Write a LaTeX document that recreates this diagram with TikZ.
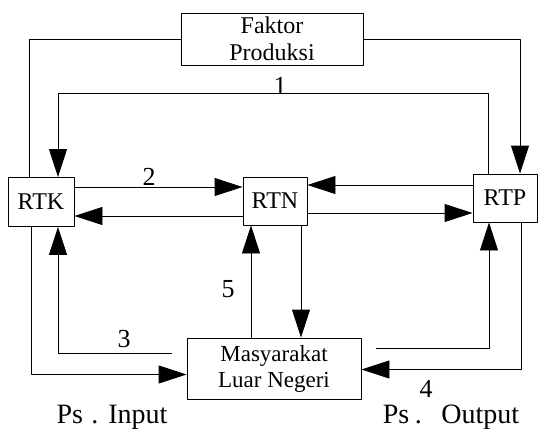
\documentclass[tikz,border=0pt]{standalone}
\usepackage{fontspec}
\setmainfont{Liberation Serif}
\usetikzlibrary{arrows.meta}

\begin{document}
\begin{tikzpicture}
			[line cap=round,line join=round,x=1pt,y=-1pt,line width=0.9pt,
			>={Triangle[length=28pt,width=18pt]},
			box/.style={draw,inner sep=0pt,align=center,font=\fontsize{23}{26}\selectfont},
			sbox/.style={draw,inner sep=0pt,font=\fontsize{24}{28}\selectfont},
			num/.style={inner sep=0pt,font=\fontsize{26}{28}\selectfont},
			ps/.style={anchor=base,inner sep=0pt,font=\fontsize{28}{30}\selectfont}]
			\useasboundingbox (0,0) rectangle (538,434);
			\node [box,font=\fontsize{24}{27}\selectfont,minimum width=182pt,minimum height=52pt] (faktor) at (272,39) {Faktor\\Produksi};
			\node [sbox,minimum width=66pt,minimum height=49pt] (rtk) at (41,202) {RTK};
			\node [sbox,minimum width=64pt,minimum height=48pt] (rtn) at (275,201) {RTN};
			\node [sbox,minimum width=64pt,minimum height=48pt] (rtp) at (505,198) {RTP};
			\node [box,minimum width=174pt,minimum height=61pt] (masy) at (274,368.5) {Masyarakat\\Luar Negeri};
			\draw ([xshift=-12pt]rtk.north) |- (faktor.west);
			\draw [->] (faktor.east) -| ([xshift=15pt]rtp.north);
			\draw [->] ([xshift=-17pt]rtp.north) -- ++(0,-80) coordinate (t1) -| ([xshift=17pt]rtk.north);
			\draw [->] ([yshift=15pt]rtk.east) -- ([yshift=15pt]rtk.east -| rtn.west);
			\draw [->] ([yshift=13pt]rtp.west) -- ([yshift=13pt]rtp.west -| rtn.east);
			\draw [->] ([yshift=-15pt]rtn.west) -- ([yshift=-15pt]rtn.west -| rtk.east);
			\draw [->] ([yshift=-12pt]rtn.east) -- ([yshift=-12pt]rtn.east -| rtp.west);
			\draw [->] ([xshift=-10pt]rtk.south) |- ([yshift=-6pt]masy.west);
			\coordinate (c3) at ([xshift=-15pt,yshift=15pt]masy.west);
			\draw [->] (c3) -| ([xshift=17pt]rtk.south);
			\draw [->] ([xshift=-23pt]masy.north) -- ([xshift=-23pt]masy.north |- rtn.south);
			\draw [->] ([xshift=26pt]rtn.south) -- ([xshift=26pt]rtn.south |- masy.north);
			\coordinate (c4) at ([xshift=15pt,yshift=20pt]masy.east);
			\draw [->] (c4) -| ([xshift=-16pt]rtp.south);
			\draw [->] ([xshift=16pt]rtp.south) |- ([yshift=-1pt]masy.east);
			\node [num,anchor=south] (n1) at (280,95) {1};
			\node [num,anchor=south] (n2) at (149,186) {2};
			\node [num,anchor=south] (n3) at (124,348) {3};
			\node [num] (n4) at (426,389) {4};
			\node [num] (n5) at (228,289) {5};
			\node [ps] (input) at (112,423) {Ps\hspace{0.3em}.\hspace{0.35em}Input};
			\node [ps] (output) at (451,423) {Ps\hspace{0.2em}.\hspace{0.7em}Output};
		\end{tikzpicture}
\end{document}
